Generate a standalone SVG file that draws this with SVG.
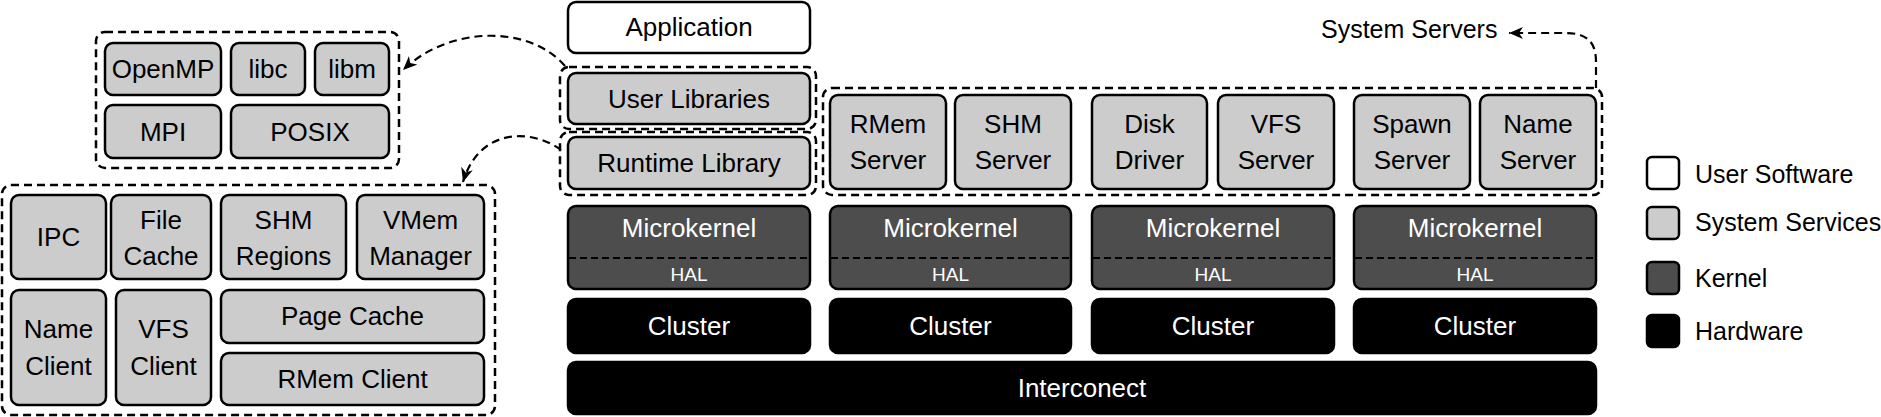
<svg xmlns="http://www.w3.org/2000/svg" width="1881" height="417" viewBox="0 0 1881 417">
<style>
text{font-family:"Liberation Sans",Arial,sans-serif;font-size:26px;text-anchor:middle;fill:#000}
.box{stroke:#000;stroke-width:2.5}
.usr{fill:#fff}
.sys{fill:#cccccc}
.ker{fill:#4d4d4d}
.hw{fill:#000}
.grp{fill:none;stroke:#000;stroke-width:2.5;stroke-dasharray:8,5}
.sep{stroke:#000;stroke-width:1.8;stroke-dasharray:7,4}
.wt{fill:#fff}
.hal{font-size:19px;fill:#fff}
.leg{font-size:25px;text-anchor:start}
.conn{fill:none;stroke:#000;stroke-width:2.2;stroke-dasharray:8,5}
</style>
<defs>
<marker id="arr" markerUnits="userSpaceOnUse" markerWidth="16" markerHeight="14" refX="14" refY="6" orient="auto">
<path d="M0,0 L14,6 L0,12 L4,6 Z" fill="#000" stroke="none"/>
</marker>
</defs>

<g id="user-libs-detail">
<rect class="grp" x="96" y="32" width="303" height="136" rx="9"/>
<g id="openmp"><rect class="box sys" x="105" y="43" width="116" height="52" rx="8"/><text x="163" y="78">OpenMP</text></g>
<g id="libc"><rect class="box sys" x="231" y="43" width="74" height="52" rx="8"/><text x="268" y="78">libc</text></g>
<g id="libm"><rect class="box sys" x="315" y="43" width="74" height="52" rx="8"/><text x="352" y="78">libm</text></g>
<g id="mpi"><rect class="box sys" x="105" y="105" width="116" height="53" rx="8"/><text x="163" y="141">MPI</text></g>
<g id="posix"><rect class="box sys" x="231" y="105" width="158" height="53" rx="8"/><text x="310" y="141">POSIX</text></g>
</g>

<g id="runtime-detail">
<rect class="grp" x="2" y="185" width="493" height="230" rx="9"/>
<g id="ipc"><rect class="box sys" x="11" y="195" width="95" height="84" rx="8"/><text x="58.5" y="246">IPC</text></g>
<g id="file-cache"><rect class="box sys" x="111" y="195" width="100" height="84" rx="8"/><text x="161" y="229">File</text><text x="161" y="265">Cache</text></g>
<g id="shm-regions"><rect class="box sys" x="221" y="195" width="125" height="84" rx="8"/><text x="283.5" y="229">SHM</text><text x="283.5" y="265">Regions</text></g>
<g id="vmem-manager"><rect class="box sys" x="357" y="195" width="127" height="84" rx="8"/><text x="420.5" y="229">VMem</text><text x="420.5" y="265">Manager</text></g>
<g id="name-client"><rect class="box sys" x="11" y="290" width="95" height="115" rx="8"/><text x="58.5" y="338">Name</text><text x="58.5" y="375">Client</text></g>
<g id="vfs-client"><rect class="box sys" x="116" y="290" width="95" height="115" rx="8"/><text x="163.5" y="338">VFS</text><text x="163.5" y="375">Client</text></g>
<g id="page-cache"><rect class="box sys" x="221" y="290" width="263" height="53" rx="8"/><text x="352.5" y="325">Page Cache</text></g>
<g id="rmem-client"><rect class="box sys" x="221" y="353" width="263" height="52" rx="8"/><text x="352.5" y="388">RMem Client</text></g>
</g>

<g id="application"><rect class="box usr" x="568" y="2" width="242" height="51" rx="8"/><text x="689" y="36">Application</text></g>
<g id="user-libraries">
<rect class="grp" x="560" y="67" width="256" height="62" rx="9"/>
<rect class="box sys" x="568" y="73" width="242" height="51" rx="8"/><text x="689" y="108">User Libraries</text>
</g>
<g id="runtime-library">
<rect class="grp" x="560" y="132" width="256" height="63" rx="9"/>
<rect class="box sys" x="568" y="137" width="242" height="52" rx="8"/><text x="689" y="172">Runtime Library</text>
</g>

<g id="system-servers">
<rect class="grp" x="823" y="88" width="779" height="107" rx="9"/>
<g id="rmem-server"><rect class="box sys" x="830" y="95" width="116" height="94" rx="8"/><text x="888" y="133">RMem</text><text x="888" y="169">Server</text></g>
<g id="shm-server"><rect class="box sys" x="955" y="95" width="116" height="94" rx="8"/><text x="1013" y="133">SHM</text><text x="1013" y="169">Server</text></g>
<g id="disk-driver"><rect class="box sys" x="1092" y="95" width="115" height="94" rx="8"/><text x="1149.5" y="133">Disk</text><text x="1149.5" y="169">Driver</text></g>
<g id="vfs-server"><rect class="box sys" x="1218" y="95" width="116" height="94" rx="8"/><text x="1276" y="133">VFS</text><text x="1276" y="169">Server</text></g>
<g id="spawn-server"><rect class="box sys" x="1354" y="95" width="116" height="94" rx="8"/><text x="1412" y="133">Spawn</text><text x="1412" y="169">Server</text></g>
<g id="name-server"><rect class="box sys" x="1480" y="95" width="116" height="94" rx="8"/><text x="1538" y="133">Name</text><text x="1538" y="169">Server</text></g>
</g>

<g id="microkernel-1"><rect class="box ker" x="568" y="206" width="242" height="83" rx="8"/><line class="sep" x1="569" y1="258" x2="809" y2="258"/><text class="wt" x="689" y="237">Microkernel</text><text class="hal" x="689" y="281">HAL</text></g>
<g id="microkernel-2"><rect class="box ker" x="830" y="206" width="241" height="83" rx="8"/><line class="sep" x1="831" y1="258" x2="1070" y2="258"/><text class="wt" x="950.5" y="237">Microkernel</text><text class="hal" x="950.5" y="281">HAL</text></g>
<g id="microkernel-3"><rect class="box ker" x="1092" y="206" width="242" height="83" rx="8"/><line class="sep" x1="1093" y1="258" x2="1333" y2="258"/><text class="wt" x="1213" y="237">Microkernel</text><text class="hal" x="1213" y="281">HAL</text></g>
<g id="microkernel-4"><rect class="box ker" x="1354" y="206" width="242" height="83" rx="8"/><line class="sep" x1="1355" y1="258" x2="1595" y2="258"/><text class="wt" x="1475" y="237">Microkernel</text><text class="hal" x="1475" y="281">HAL</text></g>

<g id="cluster-1"><rect class="box hw" x="568" y="299" width="242" height="54" rx="8"/><text class="wt" x="689" y="335">Cluster</text></g>
<g id="cluster-2"><rect class="box hw" x="830" y="299" width="241" height="54" rx="8"/><text class="wt" x="950.5" y="335">Cluster</text></g>
<g id="cluster-3"><rect class="box hw" x="1092" y="299" width="242" height="54" rx="8"/><text class="wt" x="1213" y="335">Cluster</text></g>
<g id="cluster-4"><rect class="box hw" x="1354" y="299" width="242" height="54" rx="8"/><text class="wt" x="1475" y="335">Cluster</text></g>

<g id="interconnect"><rect class="box hw" x="568" y="362" width="1028" height="52" rx="8"/><text class="wt" x="1082" y="397">Interconect</text></g>

<g id="system-servers-label"><text x="1321" y="38" style="text-anchor:start;font-size:25px">System Servers</text></g>

<g id="connectors">
<path class="conn" d="M565,66 C530,25 450,25 403,70" marker-end="url(#arr)"/>
<path class="conn" d="M561,150 C535,130 480,125 463,182" marker-end="url(#arr)"/>
<path class="conn" d="M1596,88 L1596,62 C1596,40 1585,33 1565,33 L1509,33" marker-end="url(#arr)"/>
</g>

<g id="legend">
<g id="legend-user"><rect class="box usr" x="1647" y="157" width="32" height="32" rx="5"/><text class="leg" x="1695" y="183">User Software</text></g>
<g id="legend-sys"><rect class="box sys" x="1647" y="207" width="32" height="32" rx="5"/><text class="leg" x="1695" y="231">System Services</text></g>
<g id="legend-kernel"><rect class="box ker" x="1647" y="262" width="32" height="32" rx="5"/><text class="leg" x="1695" y="287">Kernel</text></g>
<g id="legend-hw"><rect class="box hw" x="1647" y="315" width="32" height="32" rx="5"/><text class="leg" x="1695" y="340">Hardware</text></g>
</g>
</svg>
